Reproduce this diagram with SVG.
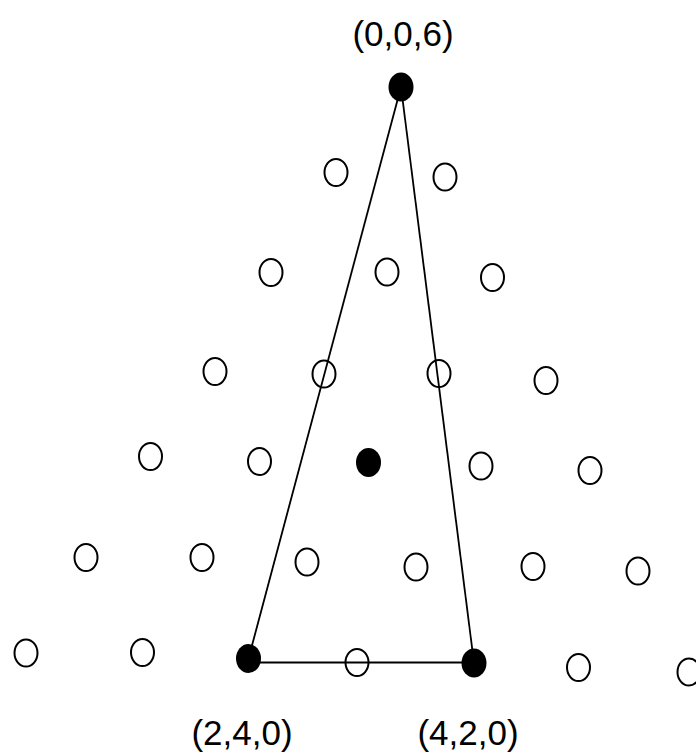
<svg xmlns="http://www.w3.org/2000/svg" width="696" height="756" viewBox="0 0 696 756">
<style>
.o{fill:none;stroke:#000;stroke-width:2}
.f{fill:#000;stroke:none}
.e{stroke:#000;stroke-width:1.8;fill:none}
text{font-family:"Liberation Sans",Arial,sans-serif;font-size:35px;fill:#000;text-anchor:middle}
</style>
<rect width="696" height="756" fill="#fff"/>
<g id="connectors">
<line class="e" x1="401" y1="87" x2="248.5" y2="658.5"/>
<line class="e" x1="401" y1="87" x2="474" y2="663"/>
<line class="e" x1="248.5" y1="662.5" x2="474" y2="662.5"/>
</g>
<g id="n006"><ellipse class="f" cx="401" cy="87" rx="12.5" ry="14.5"/><text x="403" y="46">(0,0,6)</text></g>
<g id="r2a"><ellipse class="o" cx="336" cy="172.5" rx="11.5" ry="13.5"/></g>
<g id="r2b"><ellipse class="o" cx="445" cy="177" rx="11.5" ry="13.5"/></g>
<g id="r3a"><ellipse class="o" cx="271" cy="272.5" rx="11.5" ry="13.5"/></g>
<g id="r3b"><ellipse class="o" cx="387" cy="272" rx="11.5" ry="13.5"/></g>
<g id="r3c"><ellipse class="o" cx="492.5" cy="277.5" rx="11.5" ry="13.5"/></g>
<g id="r4a"><ellipse class="o" cx="215" cy="371.5" rx="11.5" ry="13.5"/></g>
<g id="r4b"><ellipse class="o" cx="324" cy="374" rx="11.5" ry="13.5"/></g>
<g id="r4c"><ellipse class="o" cx="439" cy="373.5" rx="11.5" ry="13.5"/></g>
<g id="r4d"><ellipse class="o" cx="546" cy="380.5" rx="11.5" ry="13.5"/></g>
<g id="r5a"><ellipse class="o" cx="150.5" cy="456.5" rx="11.5" ry="13.5"/></g>
<g id="r5b"><ellipse class="o" cx="259.5" cy="461.5" rx="11.5" ry="13.5"/></g>
<g id="r5c"><ellipse class="f" cx="368.5" cy="462.5" rx="12.5" ry="14.5"/></g>
<g id="r5d"><ellipse class="o" cx="481" cy="466" rx="11.5" ry="13.5"/></g>
<g id="r5e"><ellipse class="o" cx="590" cy="470.5" rx="11.5" ry="13.5"/></g>
<g id="r6a"><ellipse class="o" cx="86" cy="557.5" rx="11.5" ry="13.5"/></g>
<g id="r6b"><ellipse class="o" cx="202" cy="557.5" rx="11.5" ry="13.5"/></g>
<g id="r6c"><ellipse class="o" cx="307" cy="562" rx="11.5" ry="13.5"/></g>
<g id="r6d"><ellipse class="o" cx="416" cy="567" rx="11.5" ry="13.5"/></g>
<g id="r6e"><ellipse class="o" cx="533" cy="566.5" rx="11.5" ry="13.5"/></g>
<g id="r6f"><ellipse class="o" cx="638" cy="571" rx="11.5" ry="13.5"/></g>
<g id="r7a"><ellipse class="o" cx="26" cy="653" rx="11.5" ry="13.5"/></g>
<g id="r7b"><ellipse class="o" cx="142.5" cy="652.5" rx="11.5" ry="13.5"/></g>
<g id="n240"><ellipse class="f" cx="248.5" cy="658.5" rx="12.5" ry="14.5"/><text x="242" y="745">(2,4,0)</text></g>
<g id="r7d"><ellipse class="o" cx="357" cy="662.5" rx="11.5" ry="13.5"/></g>
<g id="n420"><ellipse class="f" cx="474" cy="663" rx="12.5" ry="14.5"/><text x="468" y="745">(4,2,0)</text></g>
<g id="r7f"><ellipse class="o" cx="578.5" cy="667.5" rx="11.5" ry="13.5"/></g>
<g id="r7g"><ellipse class="o" cx="689" cy="672" rx="11.5" ry="13.5"/></g>
</svg>
